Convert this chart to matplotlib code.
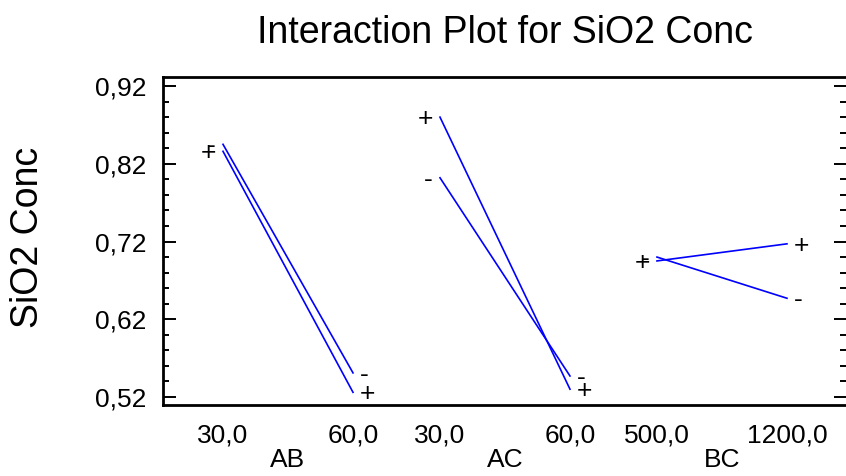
import matplotlib
matplotlib.use("Agg")
import matplotlib.pyplot as plt
from matplotlib.ticker import MultipleLocator, FixedLocator
import matplotlib.transforms as mtrans

plt.rcParams['font.family'] = ['Liberation Sans', 'DejaVu Sans']

# ---- data ----
factors = ['AB', 'AC', 'BC']
level_labels = [['30,0', '60,0'], ['30,0', '60,0'], ['500,0', '1200,0']]
minus_vals = [[0.845, 0.551], [0.802, 0.547], [0.700, 0.647]]
plus_vals = [[0.836, 0.526], [0.880, 0.530], [0.695, 0.717]]
y_ticks = [0.52, 0.62, 0.72, 0.82, 0.92]
y_tick_labels = ['0,52', '0,62', '0,72', '0,82', '0,92']

fig = plt.figure(figsize=(8.46, 4.76), dpi=100)
ax = fig.add_axes([163/846, 71/476, 1 - 163/846, 328/476])

group_step = 1.669
line_color = '#0000ff'
fs = 19

xt, xtl = [], []
for i, f in enumerate(factors):
    x0 = i * group_step
    xs = [x0, x0 + 1]
    ax.plot(xs, minus_vals[i], color=line_color, lw=1.2)
    ax.plot(xs, plus_vals[i], color=line_color, lw=1.2)
    for vals, sym in ((minus_vals[i], '-'), (plus_vals[i], '+')):
        ax.annotate(sym, (xs[0], vals[0]), xytext=(-5, -1.5), textcoords='offset points',
                    ha='right', va='center', fontsize=fs)
        ax.annotate(sym, (xs[1], vals[1]), xytext=(5, -1.5), textcoords='offset points',
                    ha='left', va='center', fontsize=fs)
    xt += xs
    xtl += level_labels[i]
    trans = mtrans.blended_transform_factory(ax.transData, ax.transAxes)
    ax.text(x0 + 0.5, -0.168, f, transform=trans, ha='center', va='center', fontsize=fs)

ax.set_xlim(-0.4615, 4.792)
ax.set_ylim(0.5097, 0.9316)
ax.set_xticks(xt)
ax.set_xticklabels(xtl, fontsize=fs)
ax.tick_params(axis='x', length=0, pad=13)

ax.yaxis.set_major_locator(FixedLocator(y_ticks))
ax.set_yticklabels(y_tick_labels, fontsize=fs)
ax.yaxis.set_minor_locator(MultipleLocator(0.02))
ax.tick_params(axis='y', which='major', direction='in', length=9, width=1.4,
               left=True, right=True, pad=12)
ax.tick_params(axis='y', which='minor', direction='in', length=4, width=1.4,
               left=True, right=True)

for s in ('left', 'top', 'bottom'):
    ax.spines[s].set_linewidth(2)
ax.spines['right'].set_visible(False)

fig.text(505/846, 1 - 33/476, 'Interaction Plot for SiO2 Conc', ha='center', va='center',
         fontsize=27)
fig.text(28/846, 1 - 237/476, 'SiO2 Conc', rotation=90, ha='center', va='center',
         fontsize=27)

fig.savefig('out.png', dpi=100)
